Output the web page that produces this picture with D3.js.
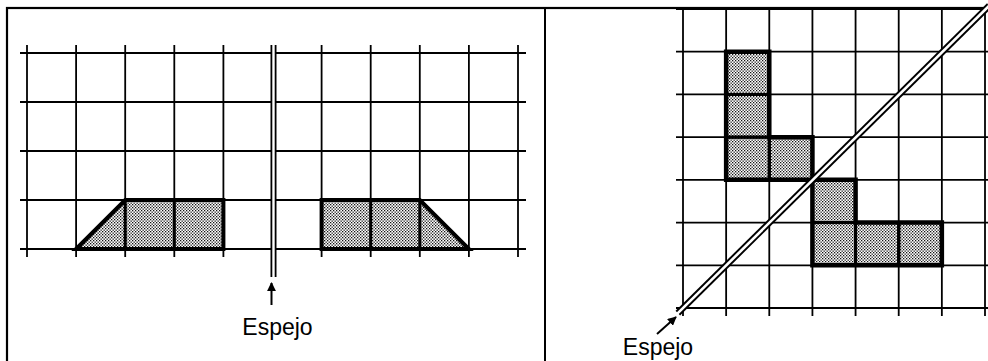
<!DOCTYPE html>
<html>
<head>
<meta charset="utf-8">
<script src="https://cdn.jsdelivr.net/npm/d3@7/dist/d3.min.js"></script>
<style>
  body { margin: 0; background: #fff; }
  svg { display: block; }
</style>
</head>
<body>
<div id="figure"></div>
<script>
// Left panel: grid columns 0..10, rows 0..4, mirror on column 5
const leftCols = d3.range(0, 11);
const leftRows = d3.range(0, 5);
const leftMirrorCol = 5;
const leftShapes = [
    [[1, 4], [2, 3], [4, 3], [4, 4]],
    [[6, 4], [6, 3], [8, 3], [9, 4]]
];
const leftInner = [[2, 3, 2, 4], [3, 3, 3, 4], [7, 3, 7, 4], [8, 3, 8, 4]];

// Right panel: grid 0..7 both ways, mirror on col + row = 7
const rightCols = d3.range(0, 8);
const rightRows = d3.range(0, 8);
const rightCellsA = [[1, 1], [1, 2], [1, 3], [2, 3]];
const rightCellsB = [[3, 4], [3, 5], [4, 5], [5, 5]];
const rightOutlineA = [[1, 1], [2, 1], [2, 3], [3, 3], [3, 4], [1, 4]];
const rightOutlineB = [[3, 4], [4, 4], [4, 5], [6, 5], [6, 6], [3, 6]];

const label = "Espejo";

const W = 988, H = 361;

let svg = d3.select("#figure").append("svg")
    .attr("width", W)
    .attr("height", H);

let defs = svg.append("defs");
let pat = defs.append("pattern")
    .attr("id", "dots")
    .attr("patternUnits", "userSpaceOnUse")
    .attr("width", 3)
    .attr("height", 3);
pat.append("rect").attr("width", 3).attr("height", 3).attr("fill", "#fff");
pat.append("rect").attr("x", 0).attr("y", 0).attr("width", 1.3).attr("height", 1.3).attr("fill", "#111");
pat.append("rect").attr("x", 1.5).attr("y", 1.5).attr("width", 1.3).attr("height", 1.3).attr("fill", "#111");

defs.append("marker")
    .attr("id", "arrow")
    .attr("viewBox", "0 0 10 10")
    .attr("refX", 9).attr("refY", 5)
    .attr("markerWidth", 4.5).attr("markerHeight", 4.5)
    .attr("orient", "auto")
    .append("path")
    .attr("d", "M0,0L10,5L0,10Z")
    .attr("fill", "#000");

// frame
svg.append("rect")
    .attr("x", 7).attr("y", 8)
    .attr("width", 990).attr("height", 360)
    .attr("fill", "none").attr("stroke", "#000").attr("stroke-width", 2.2);
svg.append("line")
    .attr("x1", 545).attr("x2", 545).attr("y1", 8).attr("y2", H)
    .attr("stroke", "#000").attr("stroke-width", 2);

// ---------------- left panel ----------------
let xL = d3.scaleLinear().domain([0, 10]).range([27, 518]);
let yL = d3.scaleLinear().domain([0, 4]).range([53, 249]);
let gL = svg.append("g");

let lineL = d3.line().x(d => xL(d[0])).y(d => yL(d[1]));

gL.selectAll(".shape")
    .data(leftShapes)
    .enter().append("path")
    .attr("d", d => lineL(d) + "Z")
    .attr("fill", "url(#dots)");

gL.selectAll(".hline")
    .data(leftRows)
    .enter().append("line")
    .attr("x1", xL(0) - 7).attr("x2", xL(10) + 8)
    .attr("y1", d => yL(d)).attr("y2", d => yL(d))
    .attr("stroke", "#000").attr("stroke-width", 1.8);

gL.selectAll(".vline")
    .data(leftCols.filter(c => c !== leftMirrorCol))
    .enter().append("line")
    .attr("x1", d => xL(d)).attr("x2", d => xL(d))
    .attr("y1", yL(0) - 8).attr("y2", yL(4) + 8)
    .attr("stroke", "#000").attr("stroke-width", 1.8);

gL.selectAll(".inner")
    .data(leftInner)
    .enter().append("line")
    .attr("x1", d => xL(d[0])).attr("y1", d => yL(d[1]))
    .attr("x2", d => xL(d[2])).attr("y2", d => yL(d[3]))
    .attr("stroke", "#000").attr("stroke-width", 3);

gL.selectAll(".outline")
    .data(leftShapes)
    .enter().append("path")
    .attr("d", d => lineL(d) + "Z")
    .attr("fill", "none")
    .attr("stroke", "#000").attr("stroke-width", 4)
    .attr("stroke-linejoin", "miter");

// vertical mirror
let mx = xL(leftMirrorCol) + 1;
gL.append("line")
    .attr("x1", mx).attr("x2", mx).attr("y1", yL(0) - 8).attr("y2", 277)
    .attr("stroke", "#000").attr("stroke-width", 6);
gL.append("line")
    .attr("x1", mx).attr("x2", mx).attr("y1", yL(0) - 10).attr("y2", 279)
    .attr("stroke", "#fff").attr("stroke-width", 2.4);

gL.append("line")
    .attr("x1", mx - 2).attr("x2", mx - 2).attr("y1", 305).attr("y2", 283)
    .attr("stroke", "#000").attr("stroke-width", 2)
    .attr("marker-end", "url(#arrow)");

gL.append("text")
    .attr("x", mx + 4).attr("y", 335)
    .attr("text-anchor", "middle")
    .style("font-family", "'Liberation Sans', Arial, sans-serif")
    .style("font-size", "23px")
    .text(label);

// ---------------- right panel ----------------
let xR = d3.scaleLinear().domain([0, 7]).range([683, 985]);
let yR = d3.scaleLinear().domain([0, 7]).range([9, 308]);
let gR = svg.append("g");

let lineR = d3.line().x(d => xR(d[0])).y(d => yR(d[1]));

gR.selectAll(".cell")
    .data(rightCellsA.concat(rightCellsB))
    .enter().append("rect")
    .attr("x", d => xR(d[0])).attr("y", d => yR(d[1]))
    .attr("width", xR(1) - xR(0)).attr("height", yR(1) - yR(0))
    .attr("fill", "url(#dots)");

gR.selectAll(".hline")
    .data(rightRows)
    .enter().append("line")
    .attr("x1", xR(0) - 7).attr("x2", W)
    .attr("y1", d => yR(d)).attr("y2", d => yR(d))
    .attr("stroke", "#000").attr("stroke-width", 1.8);

gR.selectAll(".vline")
    .data(rightCols)
    .enter().append("line")
    .attr("x1", d => xR(d)).attr("x2", d => xR(d))
    .attr("y1", yR(0)).attr("y2", yR(7) + 8)
    .attr("stroke", "#000").attr("stroke-width", 1.8);

gR.selectAll(".cellborder")
    .data(rightCellsA.concat(rightCellsB))
    .enter().append("rect")
    .attr("x", d => xR(d[0])).attr("y", d => yR(d[1]))
    .attr("width", xR(1) - xR(0)).attr("height", yR(1) - yR(0))
    .attr("fill", "none")
    .attr("stroke", "#000").attr("stroke-width", 3);

gR.selectAll(".outline")
    .data([rightOutlineA, rightOutlineB])
    .enter().append("path")
    .attr("d", d => lineR(d) + "Z")
    .attr("fill", "none")
    .attr("stroke", "#000").attr("stroke-width", 4.5);

// diagonal mirror
let d0 = [7.1, -0.08], d1 = [-0.12, 7.12];
gR.append("line")
    .attr("x1", xR(d0[0])).attr("y1", yR(d0[1]))
    .attr("x2", xR(d1[0])).attr("y2", yR(d1[1]))
    .attr("stroke", "#000").attr("stroke-width", 6.5);
gR.append("line")
    .attr("x1", xR(d0[0]) + 2).attr("y1", yR(d0[1]) - 2)
    .attr("x2", xR(d1[0]) - 2).attr("y2", yR(d1[1]) + 2)
    .attr("stroke", "#fff").attr("stroke-width", 2.6);

gR.append("line")
    .attr("x1", 657).attr("y1", 334)
    .attr("x2", 676).attr("y2", 317)
    .attr("stroke", "#000").attr("stroke-width", 2)
    .attr("marker-end", "url(#arrow)");

gR.append("text")
    .attr("x", 658).attr("y", 355)
    .attr("text-anchor", "middle")
    .style("font-family", "'Liberation Sans', Arial, sans-serif")
    .style("font-size", "23px")
    .text(label);
</script>
</body>
</html>
